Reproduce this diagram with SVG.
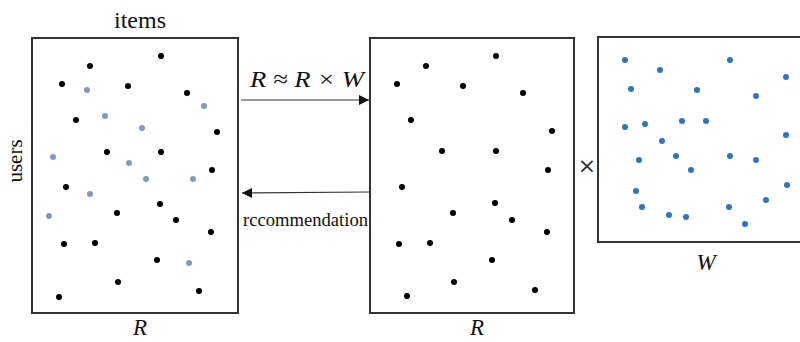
<svg xmlns="http://www.w3.org/2000/svg" width="800" height="342" viewBox="0 0 800 342">
<defs>
<marker id="ah" viewBox="0 0 10 10" refX="10" refY="5" markerWidth="12" markerHeight="10" markerUnits="userSpaceOnUse" orient="auto">
<path d="M0,0 L10,5 L0,10 z" fill="#111"/>
</marker>
</defs>
<style>
.box{fill:#fff;stroke:#333;stroke-width:2}
.lbl{font-family:"Liberation Serif","Times New Roman",serif;fill:#111}
.it{font-style:italic}
.k circle{fill:#000}
.g circle{fill:#7f99bf}
.b circle{fill:#2f74c0}
.conn{stroke:#333;stroke-width:1.2;fill:none}
</style>
<rect width="800" height="342" fill="#fff"/>
<g id="node-R-left">
<rect class="box" x="32" y="38" width="206" height="275"/>
<text class="lbl" x="140" y="28" font-size="24" text-anchor="middle">items</text>
<text class="lbl" font-size="21" text-anchor="middle" transform="translate(22,161) rotate(-90)">users</text>
<text class="lbl it" x="140" y="335" font-size="23" text-anchor="middle">R</text>
<g class="k">
<circle cx="161" cy="56" r="3"/><circle cx="90" cy="66" r="3"/><circle cx="62" cy="84" r="3"/><circle cx="128" cy="86" r="3"/><circle cx="187" cy="93" r="3"/><circle cx="76" cy="120" r="3"/><circle cx="217" cy="132" r="3"/><circle cx="107" cy="152" r="3"/><circle cx="161" cy="152" r="3"/><circle cx="212" cy="170" r="3"/><circle cx="66" cy="187" r="3"/><circle cx="117" cy="213" r="3"/><circle cx="160" cy="204" r="3"/><circle cx="176" cy="220" r="3"/><circle cx="211" cy="232" r="3"/><circle cx="64" cy="244" r="3"/><circle cx="95" cy="243" r="3"/><circle cx="157" cy="260" r="3"/><circle cx="118" cy="282" r="3"/><circle cx="199" cy="291" r="3"/><circle cx="59" cy="297" r="3"/>
</g>
<g class="g">
<circle cx="87" cy="90" r="3"/><circle cx="204" cy="106" r="3"/><circle cx="105" cy="116" r="3"/><circle cx="142" cy="128" r="3"/><circle cx="53" cy="157" r="3"/><circle cx="129" cy="163" r="3"/><circle cx="146" cy="179" r="3"/><circle cx="193" cy="179" r="3"/><circle cx="90" cy="194" r="3"/><circle cx="49" cy="216" r="3"/><circle cx="189" cy="263" r="3"/>
</g>
</g>
<g id="node-R-middle">
<rect class="box" x="370" y="38" width="204" height="275"/>
<text class="lbl it" x="477" y="335" font-size="23" text-anchor="middle">R</text>
<g class="k">
<circle cx="496" cy="56" r="3"/><circle cx="426" cy="66" r="3"/><circle cx="397" cy="84" r="3"/><circle cx="463" cy="86" r="3"/><circle cx="523" cy="93" r="3"/><circle cx="411" cy="120" r="3"/><circle cx="552" cy="131" r="3"/><circle cx="442" cy="151" r="3"/><circle cx="496" cy="151" r="3"/><circle cx="548" cy="170" r="3"/><circle cx="402" cy="187" r="3"/><circle cx="453" cy="213" r="3"/><circle cx="495" cy="203" r="3"/><circle cx="512" cy="220" r="3"/><circle cx="547" cy="232" r="3"/><circle cx="399" cy="244" r="3"/><circle cx="430" cy="243" r="3"/><circle cx="492" cy="260" r="3"/><circle cx="454" cy="282" r="3"/><circle cx="535" cy="290" r="3"/><circle cx="407" cy="296" r="3"/>
</g>
</g>
<g id="node-times">
<text x="587" y="173" font-family="DejaVu Sans, sans-serif" font-size="22" fill="#333" text-anchor="middle">×</text>
</g>
<g id="node-W">
<rect class="box" x="598" y="37" width="230" height="205"/>
<text class="lbl it" x="706" y="270" font-size="23" text-anchor="middle">W</text>
<g class="b">
<circle cx="625" cy="60" r="3"/><circle cx="730" cy="60" r="3"/><circle cx="660" cy="70" r="3"/><circle cx="786" cy="77" r="3"/><circle cx="631" cy="89" r="3"/><circle cx="697" cy="90" r="3"/><circle cx="756" cy="96" r="3"/><circle cx="625" cy="127" r="3"/><circle cx="645" cy="124" r="3"/><circle cx="682" cy="121" r="3"/><circle cx="706" cy="121" r="3"/><circle cx="786" cy="135" r="3"/><circle cx="662" cy="141" r="3"/><circle cx="676" cy="156" r="3"/><circle cx="730" cy="156" r="3"/><circle cx="756" cy="160" r="3"/><circle cx="639" cy="160" r="3"/><circle cx="691" cy="170" r="3"/><circle cx="787" cy="185" r="3"/><circle cx="636" cy="191" r="3"/><circle cx="766" cy="200" r="3"/><circle cx="642" cy="207" r="3"/><circle cx="729" cy="207" r="3"/><circle cx="669" cy="215" r="3"/><circle cx="686" cy="217" r="3"/><circle cx="745" cy="224" r="3"/>
</g>
</g>
<g id="connectors">
<line class="conn" x1="241" y1="100" x2="369" y2="100" marker-end="url(#ah)"/>
<text class="lbl it" x="250" y="87" font-size="24" textLength="114" lengthAdjust="spacingAndGlyphs">R ≈ R × W</text>
<line class="conn" x1="369" y1="192" x2="242" y2="193" marker-end="url(#ah)"/>
<text class="lbl" x="243" y="226" font-size="18" textLength="125" lengthAdjust="spacingAndGlyphs">rccommendation</text>
</g>
</svg>
